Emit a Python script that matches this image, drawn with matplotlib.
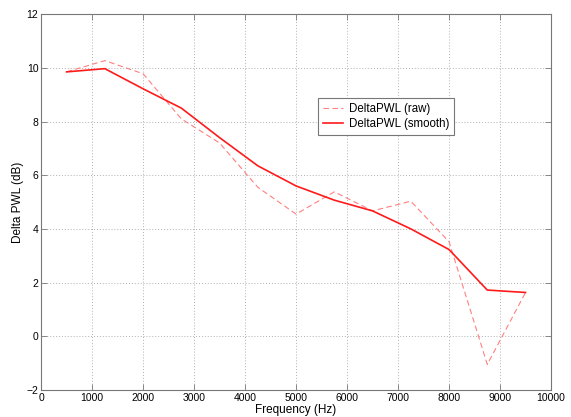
import numpy as np
import matplotlib.pyplot as plt

# Frequency bins (Hz) and delta PWL values (dB)
freq = [500, 1250, 2000, 2750, 3500, 4250, 5000, 5750, 6500, 7250, 8000, 8750, 9500]
delta_raw = [9.85, 10.27, 9.78, 8.1, 7.2, 5.55, 4.55, 5.38, 4.67, 5.03, 3.52, -1.05, 1.63]
delta_smooth = [9.85, 9.97, 9.22, 8.5, 7.4, 6.35, 5.6, 5.07, 4.67, 4.0, 3.23, 1.72, 1.63]

xticks = np.arange(0, 10001, 1000)
yticks = np.arange(-2, 13, 2)

plt.rcParams['font.family'] = ['Liberation Sans', 'DejaVu Sans']
plt.rcParams['font.size'] = 7.5

fig = plt.figure(figsize=(5.71, 4.17), dpi=100)
ax = fig.add_axes([0.072, 0.065, 0.893, 0.901])

ax.plot(freq, delta_raw, linestyle=(0, (5, 3)), color='#ff8080', linewidth=0.8,
        label='DeltaPWL (raw)')
ax.plot(freq, delta_smooth, '-', color='#ff1a1a', linewidth=1.2,
        label='DeltaPWL (smooth)')

ax.set_xlim(0, 10000)
ax.set_ylim(-2, 12)
ax.set_xticks(xticks)
ax.set_yticks(yticks)

ax.grid(True, linestyle=(0, (1, 2)), color='#b0b0b0', linewidth=0.7)
ax.tick_params(direction='in', top=True, right=True, length=4, width=0.6,
               color='#777777', labelsize=7.5, pad=2)
for s in ax.spines.values():
    s.set_color('#777777')
    s.set_linewidth(0.8)

ax.set_xlabel('Frequency (Hz)', fontsize=8.5, labelpad=1)
ax.set_ylabel('Delta PWL (dB)', fontsize=8.5, labelpad=2)

leg = ax.legend(loc='upper left', bbox_to_anchor=(0.543, 0.776), fancybox=False,
                framealpha=1, edgecolor='#777777', fontsize=8.3, handlelength=1.8,
                borderpad=0.4, labelspacing=0.3, handletextpad=0.5,
                borderaxespad=0)
leg.get_frame().set_linewidth(0.8)

fig.savefig('out.png', dpi=100)
